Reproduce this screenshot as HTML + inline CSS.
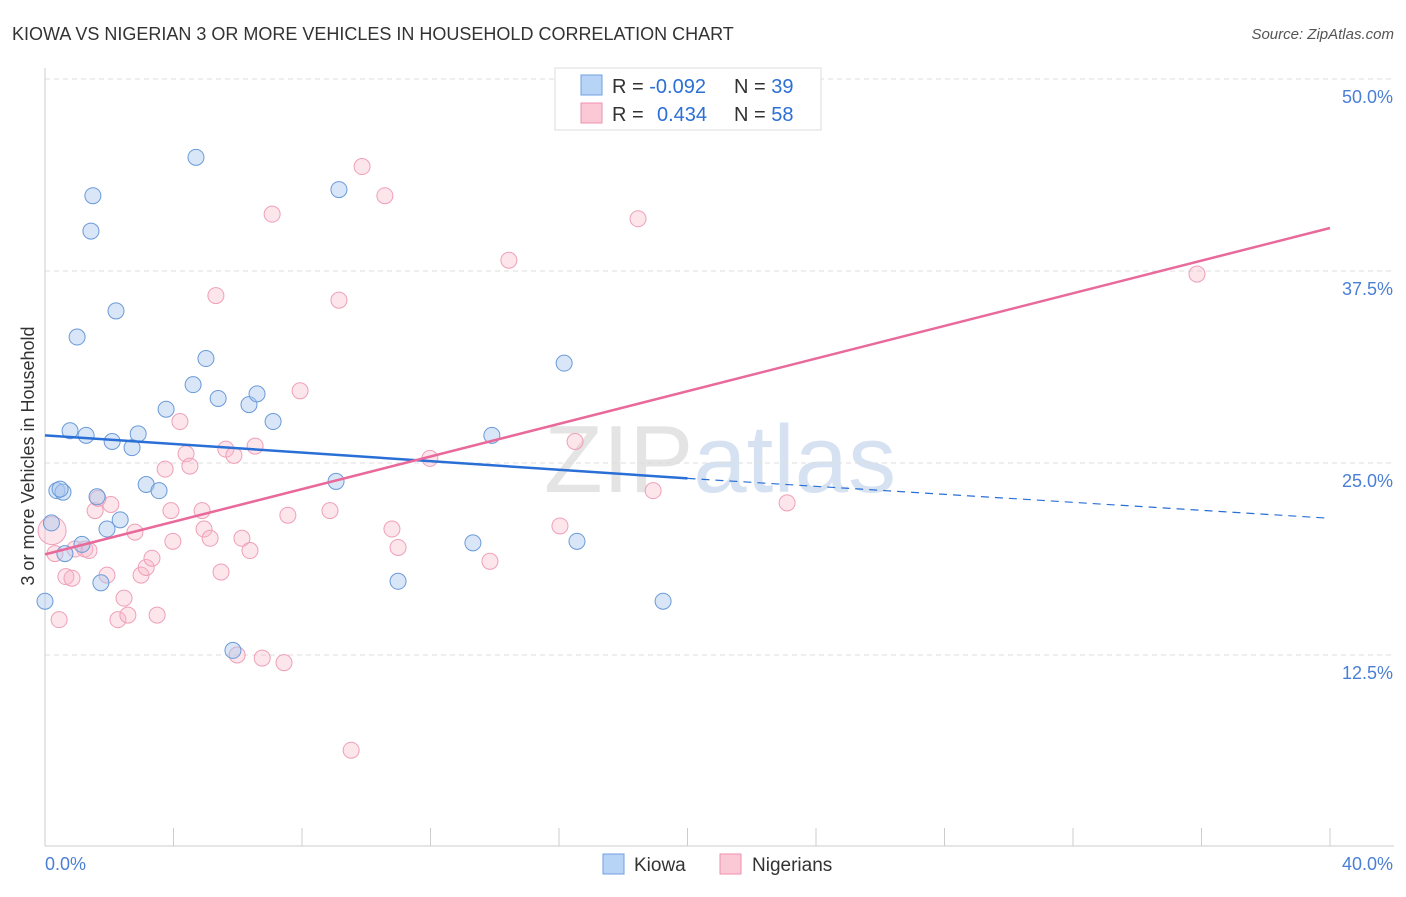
<!DOCTYPE html>
<html><head><meta charset="utf-8"><style>
body{margin:0;background:#fff;font-family:"Liberation Sans",sans-serif;}
svg text{font-family:"Liberation Sans",sans-serif;}
</style></head><body>
<svg id="chart" width="1406" height="892">
<text x="12" y="40" font-size="18" fill="#333">KIOWA VS NIGERIAN 3 OR MORE VEHICLES IN HOUSEHOLD CORRELATION CHART</text>
<text x="1394" y="39" font-size="15" fill="#555" font-style="italic" text-anchor="end">Source: ZipAtlas.com</text>
<text x="720" y="492" font-size="96" fill="#e4e4e4" text-anchor="middle" font-family="Liberation Serif">ZIP<tspan fill="#d6e2f2" font-family="Liberation Sans">atlas</tspan></text>
<g id="grid"></g><g id="axes"></g><g id="pts"></g><g id="lines"></g>
<text x="34" y="456" font-size="18" fill="#333" text-anchor="middle" transform="rotate(-90 34 456)">3 or more Vehicles in Household</text>
<g>
<rect x="555" y="68" width="266" height="62" fill="#fff" stroke="#ddd"/>
<rect x="581" y="75" width="21" height="20" fill="#b7d3f5" stroke="#6fa0e0"/>
<rect x="581" y="103" width="21" height="20" fill="#fbc8d6" stroke="#ee92ad"/>
<text x="612" y="93" font-size="20" fill="#333">R = <tspan fill="#2c6fd6">-0.092</tspan></text>
<text x="734" y="93" font-size="20" fill="#333">N = <tspan fill="#2c6fd6">39</tspan></text>
<text x="612" y="121" font-size="20" fill="#333">R = <tspan fill="#2c6fd6" x="657">0.434</tspan></text>
<text x="734" y="121" font-size="20" fill="#333">N = <tspan fill="#2c6fd6">58</tspan></text>
</g>
<g>
<rect x="603" y="854" width="21" height="20" fill="#b7d3f5" stroke="#6fa0e0"/>
<text x="634" y="871" font-size="19" fill="#333">Kiowa</text>
<rect x="720" y="854" width="21" height="20" fill="#fbc8d6" stroke="#ee92ad"/>
<text x="752" y="871" font-size="19" fill="#333">Nigerians</text>
</g>
</svg>
<script>
const blueX=[0,0.2,0.37,0.56,0.62,0.78,1,1.15,1.28,1.43,1.49,1.62,1.74,1.93,2.09,2.21,2.34,2.71,2.9,3.15,3.55,3.77,4.61,4.7,5.01,5.39,5.85,6.35,6.6,7.1,9.06,9.15,10.99,13.32,13.91,16.16,16.56,19.24,0.47];
const blueY=[16.0,21.1,23.2,23.1,19.1,27.1,33.2,19.7,26.8,40.1,42.4,22.8,17.2,20.7,26.4,34.9,21.3,26.0,26.9,23.6,23.2,28.5,30.1,44.9,31.8,29.2,12.8,28.8,29.5,27.7,23.8,42.8,17.3,19.8,26.8,31.5,19.9,16.0,23.3];
const pinkX=[0.22,0.31,0.44,0.65,0.84,0.93,1.24,1.37,1.56,1.65,1.93,2.05,2.27,2.46,2.58,2.8,2.99,3.15,3.33,3.49,3.74,3.92,3.98,4.2,4.39,4.51,4.89,4.95,5.14,5.32,5.48,5.63,5.88,6.13,6.38,6.54,6.76,7.07,7.44,7.56,7.94,8.87,9.15,9.53,9.87,10.58,10.8,10.99,11.98,13.85,14.44,16.03,16.5,18.46,18.93,23.1,35.86,5.98];
const pinkY=[20.6,19.1,14.8,17.6,17.5,19.4,19.4,19.3,21.9,22.7,17.7,22.3,14.8,16.2,15.1,20.5,17.7,18.2,18.8,15.1,24.6,21.9,19.9,27.7,25.6,24.8,21.9,20.7,20.1,35.9,17.9,25.9,25.5,20.1,19.3,26.1,12.3,41.2,12.0,21.6,29.7,21.9,35.6,6.3,44.3,42.4,20.7,19.5,25.3,18.6,38.2,20.9,26.4,40.9,23.2,22.4,37.3,12.5];
const yTicks=[12.5,25,37.5,50];
const blueLine=[26.8,24.0,21.4];
const pinkLine=[19.05,40.3];
const X=v=>45+v*32.125, Y=v=>655-(v-12.5)*15.36;
const NS='http://www.w3.org/2000/svg';
function mk(t,a,p){const e=document.createElementNS(NS,t);for(const k in a)e.setAttribute(k,a[k]);p.appendChild(e);return e;}
const grid=document.getElementById('grid'),axes=document.getElementById('axes'),pts=document.getElementById('pts'),lines=document.getElementById('lines');
yTicks.forEach(v=>{
 const l=mk('line',{x1:45,x2:1394,y1:Y(v),y2:Y(v),stroke:'#ddd','stroke-dasharray':'5,4'},grid);
 
 
 const t=mk('text',{x:1393,y:Y(v)+24,'font-size':18,fill:'#4a7fd6','text-anchor':'end'},axes);
 t.textContent=v.toFixed(1)+'%';
 
 
});
mk('line',{x1:45,x2:45,y1:68,y2:846,stroke:'#ccc'},axes);
mk('line',{x1:45,x2:1394,y1:846,y2:846,stroke:'#ccc'},axes);
for(let i=0;i<=10;i++){mk('line',{x1:X(i*4),x2:X(i*4),y1:828,y2:846,stroke:'#ccc'},axes);}
const x0=mk('text',{x:45,y:870,'font-size':18,fill:'#4a7fd6'},axes);x0.textContent='0.0%';


const x1=mk('text',{x:1393,y:870,'font-size':18,fill:'#4a7fd6','text-anchor':'end'},axes);x1.textContent='40.0%';


pinkX.forEach((v,i)=>{const c=mk('circle',{cx:X(v),cy:Y(pinkY[i]),r:i==0?14:8,fill:'rgba(248,180,200,0.35)',stroke:'#eea0b8','stroke-width':1},pts);
 
 });
blueX.forEach((v,i)=>{const c=mk('circle',{cx:X(v),cy:Y(blueY[i]),r:8,fill:'rgba(170,200,240,0.45)',stroke:'#6a9ad8','stroke-width':1},pts);
 
 });
let l=mk('line',{x1:X(0),y1:Y(blueLine[0]),x2:X(20),y2:Y(blueLine[1]),stroke:'#2a6fd6','stroke-width':2.5},lines);


l=mk('line',{x1:X(20),y1:Y(blueLine[1]),x2:X(40),y2:Y(blueLine[2]),stroke:'#2a6fd6','stroke-width':1.2,'stroke-dasharray':'8,6'},lines);


l=mk('line',{x1:X(0),y1:Y(pinkLine[0]),x2:X(40),y2:Y(pinkLine[1]),stroke:'#e8699a','stroke-width':2.5},lines);


</script>
</body></html>
